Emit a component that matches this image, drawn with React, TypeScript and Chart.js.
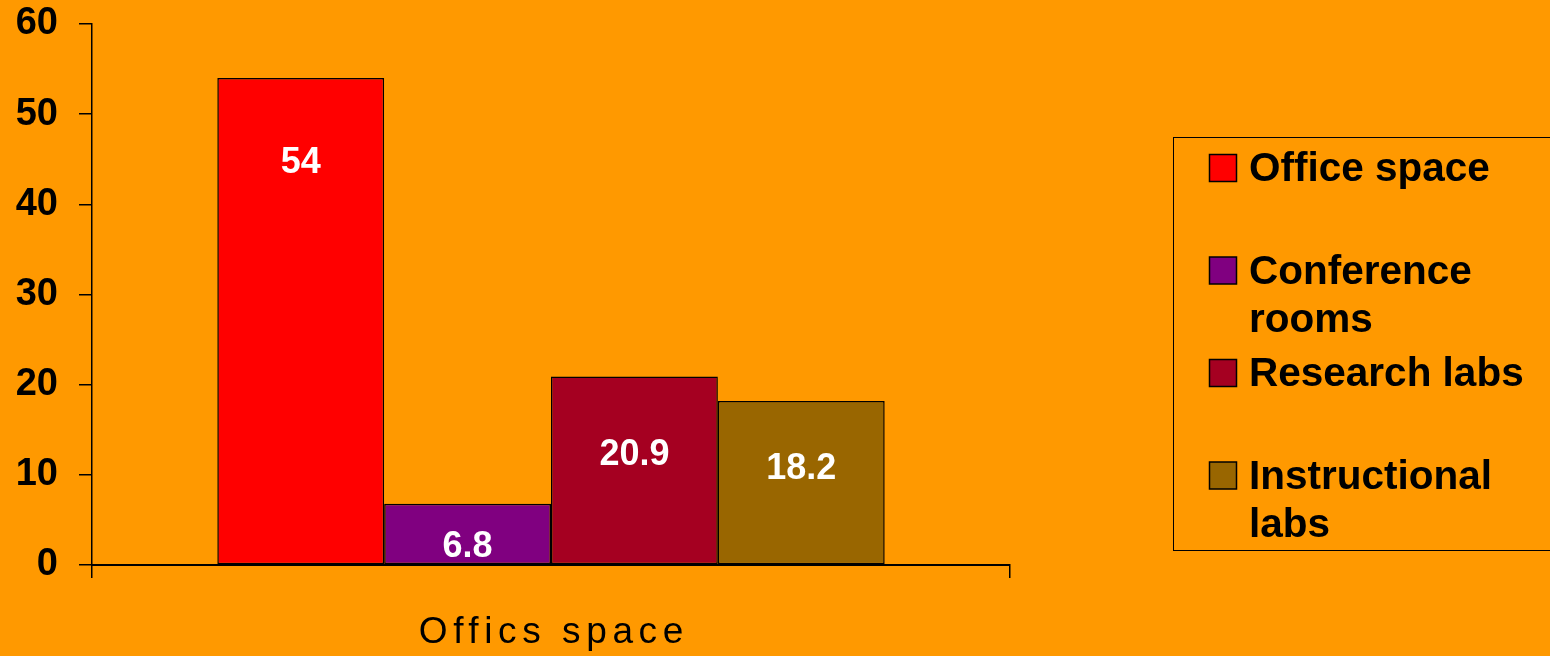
import React, { useEffect, useRef } from "react";
import { Chart, registerables } from "chart.js";

Chart.register(...registerables);

// Share of space by room type
const categories = ["Offics space"];
const seriesNames = ["Office space", "Conference rooms", "Research labs", "Instructional labs"];
const seriesValues = [54, 6.8, 20.9, 18.2];
const seriesColors = ["#FF0000", "#800080", "#A50021", "#996600"];
const yTicks = [0, 10, 20, 30, 40, 50, 60];

const PAGE_BG = "#FF9900";
const FONT = "Arial, 'Liberation Sans', Helvetica, sans-serif";

// White value labels inside each bar
const valueLabels = {
  id: "valueLabels",
  afterDatasetsDraw(chart: any) {
    const { ctx } = chart;
    ctx.save();
    ctx.fillStyle = "#FFFFFF";
    ctx.font = `bold 36px ${FONT}`;
    ctx.textAlign = "center";
    ctx.textBaseline = "middle";
    chart.data.datasets.forEach((ds: any, i: number) => {
      const meta = chart.getDatasetMeta(i);
      meta.data.forEach((bar: any, j: number) => {
        const h = bar.base - bar.y;
        let y = bar.y + Math.min(85, h * 0.42);
        if (y > bar.base - 17 || h < 100) y = bar.base - 17;
        ctx.fillText(String(ds.data[j]), bar.x, y);
      });
    });
    ctx.restore();
  },
};

// Category caption below the x axis, letter-spaced
const categoryCaption = {
  id: "categoryCaption",
  afterDraw(chart: any) {
    const { ctx, chartArea } = chart;
    const text = String(chart.data.labels[0]);
    ctx.save();
    ctx.fillStyle = "#000000";
    ctx.font = `37px ${FONT}`;
    const spacing = 5.6;
    (ctx as any).letterSpacing = `${spacing}px`;
    ctx.textAlign = "center";
    ctx.textBaseline = "middle";
    ctx.fillText(text, (chartArea.left + chartArea.right) / 2 + spacing / 2, 633);
    ctx.restore();
  },
};

// Boxed legend on the right with wrapped labels
const boxedLegend = {
  id: "boxedLegend",
  afterDraw(chart: any) {
    const { ctx } = chart;
    const boxX = 1173.5;
    const boxY = 137.5;
    const boxW = 420;
    const boxH = 413;
    ctx.save();
    ctx.strokeStyle = "#000000";
    ctx.lineWidth = 1;
    ctx.strokeRect(boxX, boxY, boxW, boxH);

    ctx.font = `bold 40.5px ${FONT}`;
    ctx.textAlign = "left";
    ctx.textBaseline = "middle";
    const textX = 1249;
    const maxW = 292;
    const firstY = 168;
    const slot = 102.5;
    const lineH = 48;
    const sw = 27;

    chart.data.datasets.forEach((ds: any, i: number) => {
      const words = String(ds.label).split(" ");
      const lines: string[] = [];
      let cur = "";
      words.forEach((w) => {
        const test = cur ? cur + " " + w : w;
        if (cur && ctx.measureText(test).width > maxW) {
          lines.push(cur);
          cur = w;
        } else {
          cur = test;
        }
      });
      if (cur) lines.push(cur);

      const cy = firstY + i * slot;
      ctx.fillStyle = ds.backgroundColor;
      ctx.fillRect(1209.5, cy - sw / 2, sw, sw);
      ctx.strokeStyle = "#000000";
      ctx.lineWidth = 1.5;
      ctx.strokeRect(1209.5, cy - sw / 2, sw, sw);

      ctx.fillStyle = "#000000";
      lines.forEach((ln, k) => ctx.fillText(ln, textX, cy + k * lineH + 2));
    });
    ctx.restore();
  },
};

export default function App() {
  const canvasRef = useRef<HTMLCanvasElement | null>(null);

  useEffect(() => {
    if (!canvasRef.current) return;
    const chart = new Chart(canvasRef.current, {
      type: "bar",
      data: {
        labels: categories,
        datasets: seriesNames.map((name, i) => ({
          label: name,
          data: [seriesValues[i]],
          backgroundColor: seriesColors[i],
          borderColor: "#000000",
          borderWidth: 1.5,
          borderSkipped: false,
          categoryPercentage: 0.727,
          barPercentage: 1,
        })),
      },
      options: {
        responsive: false,
        animation: false,
        events: [],
        layout: { padding: { top: 24, right: 540, left: 0, bottom: 0 } },
        plugins: {
          legend: { display: false },
          tooltip: { enabled: false },
          title: { display: false },
        },
        scales: {
          x: {
            offset: true,
            grid: {
              display: true,
              offset: true,
              drawOnChartArea: false,
              drawTicks: true,
              tickLength: 13,
              color: "#000000",
              lineWidth: 1.5,
            },
            border: { display: true, color: "#000000", width: 2 },
            ticks: { display: false },
            afterFit(scale: any) {
              scale.height = 91;
            },
          },
          y: {
            min: 0,
            max: 60,
            afterBuildTicks(scale: any) {
              scale.ticks = yTicks.map((v) => ({ value: v }));
            },
            grid: {
              display: true,
              drawOnChartArea: false,
              drawTicks: true,
              tickLength: 13,
              color: "#000000",
              lineWidth: 1.5,
            },
            border: { display: true, color: "#000000", width: 1.5 },
            ticks: {
              color: "#000000",
              padding: 21,
              font: { family: FONT, size: 38, weight: "bold" },
            },
            afterFit(scale: any) {
              scale.width = 92;
              scale.paddingTop = 0;
              scale.paddingBottom = 0;
            },
          },
        },
      },
      plugins: [valueLabels, categoryCaption, boxedLegend],
    });
    return () => chart.destroy();
  }, []);

  return (
    <div
      style={{
        position: "fixed",
        left: 0,
        top: 0,
        width: 1550,
        height: 656,
        background: PAGE_BG,
        overflow: "hidden",
      }}
    >
      <canvas ref={canvasRef} width={1550} height={656} style={{ display: "block" }} />
    </div>
  );
}
